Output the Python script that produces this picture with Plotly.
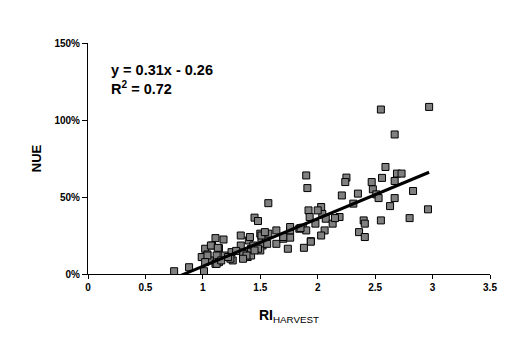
import plotly.graph_objects as go

# RI_HARVEST values (x) and NUE values in percent (y)
ri_harvest = [
    0.75, 0.88, 1.01, 1.00, 1.02, 1.11, 1.18, 1.08, 1.14, 1.04, 1.12, 1.06, 1.11, 1.14,
    1.19, 1.26, 1.25, 1.33, 1.33, 1.35, 1.39, 1.42, 1.40, 1.42, 1.44, 1.45, 1.48, 1.50,
    1.51, 1.52, 1.50, 1.55, 1.57, 1.57, 1.64, 1.64, 1.70, 1.74, 1.76, 1.76, 1.84, 1.88,
    1.90, 1.91, 1.92, 1.93, 1.94, 1.98, 2.03, 2.04, 2.06, 2.07, 2.13, 2.19, 2.21, 2.25,
    2.24, 2.31, 2.35, 2.36,
    2.55, 2.97, 2.67, 2.59, 2.69, 2.73, 2.56, 2.47, 2.67, 2.48, 2.83, 2.51, 2.53, 2.67,
    2.63, 2.96, 2.15, 2.40, 2.41, 2.55, 2.80, 2.41,
    1.87, 1.90, 2.03, 2.00, 1.07, 1.13, 0.99, 1.04, 1.02, 1.12, 1.16, 1.24,
    1.41, 1.51, 1.54, 1.56, 1.48, 1.45, 1.38, 1.35, 1.22, 1.70, 1.76, 1.85, 1.94, 1.29,
]
nue_pct = [
    1.8, 4.4, 1.8, 11.0, 16.4, 23.3, 22.4, 18.5, 16.8, 12.7, 12.0, 8.8, 6.6, 7.7,
    12.0, 8.8, 14.2, 25.0, 18.5, 13.1, 11.0, 12.0, 21.8, 16.4, 18.5, 36.6, 34.4, 26.2,
    21.8, 18.5, 15.3, 22.9, 26.2, 46.0, 28.3, 19.6, 22.9, 16.4, 28.3, 23.6, 29.4, 17.0,
    64.0, 55.8, 41.3, 37.0, 21.3, 32.7, 43.5, 39.0, 28.3, 35.9, 32.7, 37.0, 51.0, 62.6,
    59.7, 45.7, 52.2, 27.2,
    106.8, 108.5, 90.6, 69.5, 65.2, 65.2, 62.4, 59.7, 60.4, 55.0, 53.9, 51.7, 49.3, 49.3,
    44.1, 42.0, 36.3, 34.8, 32.7, 34.8, 36.3, 24.0,
    30.1, 28.3, 25.0, 41.3, 18.5, 17.0, 11.0, 12.0, 7.7, 6.6, 8.8, 9.9,
    24.0, 25.0, 27.2, 19.6, 16.4, 15.3, 12.0, 9.9, 11.0, 24.0, 30.5, 29.8, 21.0, 15.0,
]

slope = 0.31
intercept = -0.26
x_ticks = [0, 0.5, 1, 1.5, 2, 2.5, 3, 3.5]
x_tick_labels = ["0", "0.5", "1", "1.5", "2", "2.5", "3", "3.5"]
y_ticks = [0, 0.5, 1.0, 1.5]
y_tick_labels = ["0%", "50%", "100%", "150%"]

nue = [v / 100 for v in nue_pct]
x_line = [min(ri_harvest), max(ri_harvest)]
y_line = [slope * x + intercept for x in x_line]

fig = go.Figure()
fig.add_trace(go.Scatter(
    x=ri_harvest, y=nue, mode="markers",
    marker=dict(symbol="square", size=7, color="#808080",
                line=dict(color="black", width=1)),
    hoverinfo="skip", showlegend=False,
))
fig.add_trace(go.Scatter(
    x=x_line, y=y_line, mode="lines",
    line=dict(color="black", width=3),
    showlegend=False, hoverinfo="skip",
))

axis_font = dict(family="Liberation Sans", size=10, color="black", weight="bold")

fig.update_layout(
    width=520, height=352,
    margin=dict(l=88, r=30, t=43, b=78),
    paper_bgcolor="white", plot_bgcolor="white",
    xaxis=dict(
        range=[0, 3.5], tickvals=x_ticks, ticktext=x_tick_labels,
        showgrid=False, zeroline=False, showline=True, linecolor="black", linewidth=1,
        ticks="outside", ticklen=4, tickcolor="black", tickfont=axis_font,
        title=dict(text="<b>RI</b><sub>HARVEST</sub>",
                   font=dict(family="Liberation Sans", size=14, color="black"),
                   standoff=18),
    ),
    yaxis=dict(
        range=[0, 1.5], tickvals=y_ticks, ticktext=y_tick_labels,
        showgrid=False, zeroline=False, showline=True, linecolor="black", linewidth=1,
        ticks="outside", ticklen=5, tickcolor="black", tickfont=axis_font,
        title=dict(text="<b>NUE</b>",
                   font=dict(family="Liberation Sans", size=13, color="black"),
                   standoff=9),
    ),
    annotations=[dict(
        xref="paper", yref="paper", x=0.053, y=0.925, xanchor="left", yanchor="top",
        align="left", showarrow=False,
        text="<b>y = 0.31x - 0.26<br>R<sup>2</sup> = 0.72</b>",
        font=dict(family="Liberation Sans", size=14.5, color="black"),
    )],
)

fig.write_html("out.html")
